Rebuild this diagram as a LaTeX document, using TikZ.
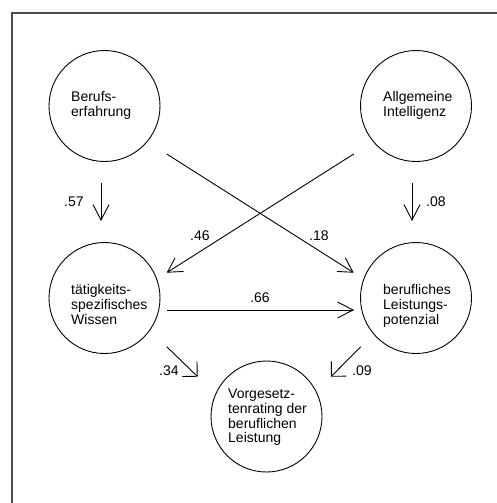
\documentclass[tikz,border=0pt]{standalone}
\usepackage{fontspec}
\setmainfont{Liberation Sans}
\usetikzlibrary{arrows.meta,calc}
\begin{document}
\begin{tikzpicture}[x=1pt,y=-1pt,
  latent/.style={circle, draw, line width=0.9pt, minimum size=111pt, inner sep=0pt},
  nodetext/.style={align=left, inner sep=0pt, font=\fontsize{14}{14.7}\selectfont, anchor=west},
  coef/.style={inner sep=0pt, font=\fontsize{14}{14.7}\selectfont, anchor=base west},
  link/.style={line width=0.9pt},
  tipA/.style={link, -{Straight Barb[length=15.5pt,width=16pt]}},
  tipB/.style={link, -{Straight Barb[length=14pt,width=16pt]}},
  tipC/.style={link, -{Straight Barb[length=10.6pt,width=21.2pt]}},
  frame/.style={line width=1.5pt, black!70}]
\useasboundingbox (0,0) rectangle (497,503);

% open frame: top and left edges
\draw[frame] (497,13) -- (12,13) -- (12,503);

% latent variables
\node[latent] (ber) at (104.5,106) {};
\node[latent] (alg) at (416,106) {};
\node[latent] (tae) at (104.5,298) {};
\node[latent] (lei) at (416,298) {};
\node[latent] (vor) at (266.5,416.5) {};

% variable names
\node[nodetext] (berT) at (71,105.7) {Berufs-\\erfahrung};
\node[nodetext] (algT) at (383,105.5) {Allgemeine\\Intelligenz};
\node[nodetext] (taeT) at (71,304.5) {tätigkeits-\\spezifisches\\Wissen};
\node[nodetext] (leiT) at (383,306) {berufliches\\Leistungs-\\potenzial};
\node[nodetext] (vorT) at (228,417.5) {Vorgesetz-\\tenrating der\\beruflichen\\Leistung};

% paths
\draw[tipA, shorten <=21pt, shorten >=21pt] ([xshift=-3.5pt]ber.south) -- ([xshift=-3.5pt]tae.north);
\draw[tipA, shorten <=21pt, shorten >=21pt] ([xshift=-4pt]alg.south) -- ([xshift=-4pt]lei.north);
\draw[tipB] ($(alg.center)+(-62.3,48)$) -- ($(tae.center)+(62.2,-25.3)$);
\draw[tipB] ($(ber.center)+(62.2,48)$) -- ($(lei.center)+(-62.3,-25.3)$);
\draw[tipA] ($(tae.center)+(62.5,12)$) -- ($(lei.center)+(-62,12)$);
\draw[tipC] ($(tae.center)+(62.2,48.7)$) -- ($(vor.center)+(-68.8,-39.8)$);
\draw[tipC] ($(lei.center)+(-55.3,48.7)$) -- ($(vor.center)+(64.5,-39.8)$);

% path coefficients
\node[coef] (c57) at (64,206) {.57};
\node[coef] (c08) at (426,206) {.08};
\node[coef] (c46) at (190,240) {.46};
\node[coef] (c18) at (309,240) {.18};
\node[coef, anchor=base] (c66) at (260,302.7) {.66};
\node[coef] (c34) at (159,375) {.34};
\node[coef] (c09) at (352,375) {.09};
\end{tikzpicture}
\end{document}
